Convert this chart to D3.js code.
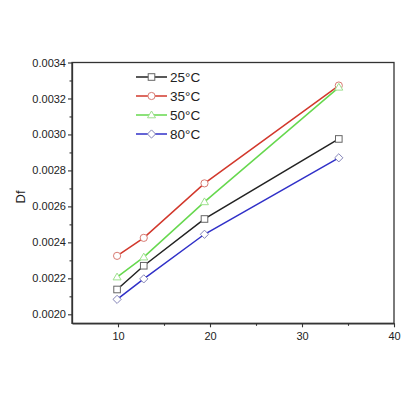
<!DOCTYPE html>
<html><head><meta charset="utf-8">
<script src="https://cdn.jsdelivr.net/npm/d3@7"></script>
<style>body{margin:0;background:#fff;} svg{display:block;font-family:"Liberation Sans",Arial,sans-serif;}</style>
</head><body>
<svg id="c" width="420" height="420"></svg>
<script>
const xValues = [9.9, 12.8, 19.4, 34.0];
const seriesNames = ["25°C", "35°C", "50°C", "80°C"];
const df25 = [0.002138, 0.002270, 0.002530, 0.002975];
const df35 = [0.002325, 0.002425, 0.002728, 0.003272];
const df50 = [0.002207, 0.002318, 0.002625, 0.003262];
const df80 = [0.002083, 0.002197, 0.002445, 0.002870];
const xTicks = [10, 20, 30, 40];
const yTicks = [0.0020, 0.0022, 0.0024, 0.0026, 0.0028, 0.0030, 0.0032, 0.0034];

const series = [
  {name: seriesNames[0], values: df25, line: "#222222", marker: "#666666", shape: "square"},
  {name: seriesNames[1], values: df35, line: "#d2382c", marker: "#d87a72", shape: "circle"},
  {name: seriesNames[2], values: df50, line: "#66d84e", marker: "#9ee08e", shape: "triangle"},
  {name: seriesNames[3], values: df80, line: "#3030c8", marker: "#8484b8", shape: "diamond"}
];

const svg = d3.select("#c");
const L = 72, R = 394, T = 62.5, B = 323.3;
const x = d3.scaleLinear().domain([5, 40]).range([L, R]);
const y = d3.scaleLinear().domain([0.00195, 0.0034]).range([B, T]);

// frame
svg.append("rect").attr("x", L).attr("y", T).attr("width", R - L).attr("height", B - T)
  .attr("fill", "none").attr("stroke", "#333").attr("stroke-width", 1.3);

// axes
const yAxis = d3.axisLeft(y).tickValues(yTicks).tickFormat(d3.format(".4f")).tickSize(4).tickSizeOuter(0);
const gy = svg.append("g").attr("transform", `translate(${L},0)`).call(yAxis);
const yMinor = d3.range(0.0021, 0.0034, 0.0002);
svg.append("g").attr("transform", `translate(${L},0)`)
  .call(d3.axisLeft(y).tickValues(yMinor).tickFormat("").tickSize(2.5).tickSizeOuter(0))
  .select(".domain").remove();

const xAxis = d3.axisBottom(x).tickValues(xTicks).tickFormat(d3.format("d")).tickSize(4).tickSizeOuter(0);
const gx = svg.append("g").attr("transform", `translate(0,${B})`).call(xAxis);
svg.append("g").attr("transform", `translate(0,${B})`)
  .call(d3.axisBottom(x).tickValues([15, 25, 35]).tickFormat("").tickSize(2.5).tickSizeOuter(0))
  .select(".domain").remove();

svg.selectAll(".domain").attr("stroke", "#333").attr("stroke-width", 1.3);
svg.selectAll(".tick line").attr("stroke", "#333").attr("stroke-width", 1.1);
gy.selectAll("text").attr("font-size", 11).attr("fill", "#222").attr("x", -6);
gx.selectAll("text").attr("font-size", 11).attr("fill", "#222").attr("dy", "0.9em");

svg.append("text").attr("transform", `translate(${25},${197}) rotate(-90)`)
  .attr("text-anchor", "middle").attr("font-size", 13).attr("fill", "#222").text("Df");

function drawMarker(g, shape, cx, cy, color) {
  const s = 3.3;
  if (shape === "square") {
    g.append("rect").attr("x", cx - s).attr("y", cy - s).attr("width", 2 * s).attr("height", 2 * s)
      .attr("fill", "#fff").attr("stroke", color).attr("stroke-width", 1);
  } else if (shape === "circle") {
    g.append("circle").attr("cx", cx).attr("cy", cy).attr("r", s + 0.3)
      .attr("fill", "#fff").attr("stroke", color).attr("stroke-width", 1);
  } else if (shape === "triangle") {
    const h = s + 0.7;
    g.append("path").attr("d", `M${cx},${cy - h}L${cx + h},${cy + h * 0.7}L${cx - h},${cy + h * 0.7}Z`)
      .attr("fill", "#fff").attr("stroke", color).attr("stroke-width", 1);
  } else {
    const h = s + 0.8;
    g.append("path").attr("d", `M${cx},${cy - h}L${cx + h},${cy}L${cx},${cy + h}L${cx - h},${cy}Z`)
      .attr("fill", "#fff").attr("stroke", color).attr("stroke-width", 1);
  }
}

const line = d3.line().x((d, i) => x(xValues[i])).y(d => y(d));
const drawOrder = [0, 3, 1, 2];
drawOrder.forEach(k => {
  const s = series[k];
  const g = svg.append("g");
  g.append("path").datum(s.values).attr("d", line).attr("fill", "none")
    .attr("stroke", s.line).attr("stroke-width", 1.5);
  s.values.forEach((v, i) => drawMarker(g, s.shape, x(xValues[i]), y(v), s.marker));
});

// legend
const lg = svg.append("g");
series.forEach((s, i) => {
  const ly = 77 + i * 19;
  lg.append("line").attr("x1", 136).attr("x2", 167).attr("y1", ly).attr("y2", ly)
    .attr("stroke", s.line).attr("stroke-width", 1.5);
  drawMarker(lg, s.shape, 151.5, ly, s.marker);
  lg.append("text").attr("x", 170).attr("y", ly + 5).attr("font-size", 13.5).attr("fill", "#222")
    .text(s.name);
});
</script>
</body></html>
